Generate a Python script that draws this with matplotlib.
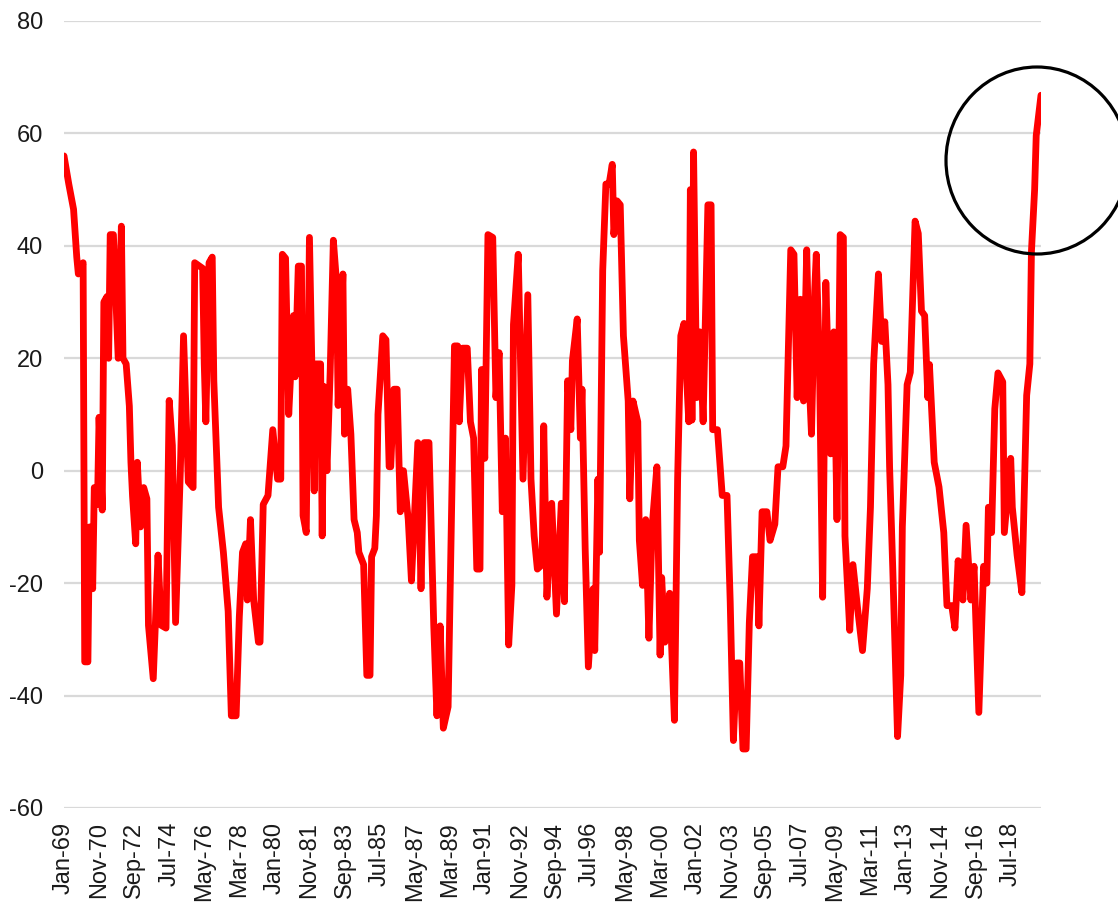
import matplotlib.pyplot as plt
from matplotlib.patches import Ellipse

# month index since Jan-69 at each turning point of the line, and its value
months = [0, 3, 6, 8, 9, 12, 13, 15, 16, 18, 19, 21, 22, 24, 25, 27, 28, 29, 31, 34,
          36, 37, 39, 41, 42, 43, 45, 46, 48, 50, 52, 53, 56, 59, 61, 64, 66, 68, 70, 73,
          75, 78, 81, 82, 87, 88, 89, 91, 93, 94, 97, 100, 103, 105, 108, 110, 112, 114, 115, 117,
          119, 122, 123, 125, 128, 131, 134, 136, 137, 139, 141, 144, 145, 147, 149, 150, 152, 154, 157, 158,
          161, 162, 163, 165, 167, 169, 171, 172, 175, 176, 178, 180, 182, 184, 185, 188, 190, 192, 193, 195,
          196, 197, 200, 202, 204, 205, 207, 209, 211, 213, 216, 218, 220, 222, 224, 226, 229, 232, 234, 236,
          238, 241, 245, 247, 248, 250, 253, 255, 257, 259, 261, 262, 264, 266, 269, 271, 273, 275, 277, 279,
          281, 282, 285, 288, 291, 293, 295, 297, 300, 301, 303, 306, 309, 312, 314, 316, 318, 319, 322, 324,
          325, 327, 329, 332, 333, 335, 336, 338, 340, 342, 344, 345, 347, 349, 351, 354, 355, 357, 360, 361,
          363, 365, 367, 369, 372, 374, 375, 377, 380, 383, 385, 387, 389, 392, 393, 394, 395, 397, 399, 401,
          404, 406, 407, 410, 413, 416, 418, 420, 422, 424, 426, 428, 430, 432, 435, 436, 438, 441, 443, 446,
          448, 451, 453, 456, 458, 460, 462, 464, 466, 468, 469, 471, 472, 474, 476, 478, 481, 483, 485, 487,
          489, 490, 493, 495, 498, 501, 504, 506, 508, 511, 513, 515, 517, 518, 520, 523, 525, 526, 529, 531,
          534, 536, 538, 540, 542, 543, 546, 549, 552, 554, 557, 559, 561, 564, 566, 569, 571, 574, 577, 579,
          580, 582, 584, 586, 589, 590, 594, 595, 598, 601, 603, 604, 606, 607, 609, 610, 613]
values = [56, 51, 46.5, 38, 35, 37, -34, -34, -10, -21, -3, -6, 9.5, -7, 30, 31, 20, 42, 42, 20,
          43.5, 20, 19, 11.5, 1.5, -4.5, -13, 1.5, -10, -3, -5, -27.5, -37, -15, -27.5, -28, 12.5, 4.5, -27, 0,
          24, -2, -3, 37, 36, 19, 8.7, 37, 38, 16, -6.5, -14.5, -25, -43.6, -43.6, -26, -14.5, -13, -23, -8.7,
          -23, -30.5, -30.5, -6, -4.4, 7.3, -1.5, -1.5, 38.5, 37.8, 10, 27.6, 16.7, 36.4, 36.4, -8, -11, 41.5, -3.6, 19,
          19, -11.6, 15, 0, 17.5, 41, 33.5, 11.6, 35, 6.5, 14.5, 6.5, -8.7, -11, -14.5, -16.7, -36.4, -36.4, -15.3, -13.8,
          -8, 10, 24, 23.3, 0.7, 0.7, 14.5, 14.5, -7.3, 0, -8.7, -19.6, -7.3, 5, -21, 5, 5, -27.6, -43.6, -27.6,
          -45.8, -42, 22.2, 22.2, 8.7, 21.8, 21.8, 8.7, 5.8, -17.5, -17.5, 18, 2.2, 42, 41.5, 13, 21, -7.3, 5.8, -31,
          -20.4, 26, 38.5, -1.5, 31.3, -1.5, -11.6, -17.5, -16.7, 8, -22.5, -5.8, -25.5, -5.8, -23.3, 16, 7.3, 19.6, 27, 5.8,
          14.5, -13.8, -34.9, -21, -32, -1.5, -14.5, 35.6, 51, 51, 54.5, 42, 48, 47.3, 24, 12.4, -5, 12.4, 8.7, -12.4,
          -20.4, -8.7, -29.8, -10, 0.7, -32.8, -19, -30.5, -21.8, -44.4, -1.5, 24, 26.2, 8.7, 50, 9, 56.7, 13, 24.7, 8.7,
          47.3, 47.3, 7.3, 7.3, -4.4, -4.4, -23.3, -48, -34.2, -34.2, -49.5, -49.5, -27, -15.3, -15.3, -27.6, -7.3, -7.3, -12.4, -9.5,
          0.7, 0.7, 4.4, 39.3, 38.5, 13, 30.5, 12.4, 39.3, 13, 6.5, 32, 38.5, 19, -22.5, 33.5, 3, 24.7, -8.7, 42,
          41.5, -11.6, -28.4, -16.7, -24.7, -32, -21, -6.5, 19, 35, 23, 26.5, 15.3, 0.7, -17.5, -47.3, -36.4, -10, 15.3, 17.5,
          44.4, 42.2, 28.4, 27.6, 13, 18.9, 1.5, -2.9, -11, -24, -24, -28, -16, -23, -9.7, -23, -17, -43, -17, -20,
          -6.5, -11, 11, 17.4, 15.8, -11, 2.2, -6.5, -15, -21.7, 1.4, 13.4, 19, 39, 50, 59.6, 66.8]

tick_months = list(range(0, 595, 22))
tick_labels = ['Jan-69', 'Nov-70', 'Sep-72', 'Jul-74', 'May-76', 'Mar-78', 'Jan-80',
               'Nov-81', 'Sep-83', 'Jul-85', 'May-87', 'Mar-89', 'Jan-91', 'Nov-92',
               'Sep-94', 'Jul-96', 'May-98', 'Mar-00', 'Jan-02', 'Nov-03', 'Sep-05',
               'Jul-07', 'May-09', 'Mar-11', 'Jan-13', 'Nov-14', 'Sep-16', 'Jul-18']

plt.rcParams['font.family'] = ['Liberation Sans', 'DejaVu Sans']
plt.rcParams['axes.unicode_minus'] = False

fig = plt.figure(figsize=(11.18, 9.02), dpi=100)
ax = fig.add_axes([64/1118, 1 - 808/902, (1041 - 64)/1118, (808 - 21)/902])

ax.plot(months, values, color='#ff0000', linewidth=4.9,
        solid_joinstyle='round', solid_capstyle='round', zorder=3)

ax.set_xlim(0, 613)
ax.set_ylim(-60, 80)
ax.set_yticks(range(-60, 81, 20))
ax.set_xticks(tick_months)
ax.set_xticklabels(tick_labels, rotation=90, va='top', ha='center')
ax.grid(axis='y', color='#d9d9d9', linewidth=1.6)
ax.set_axisbelow(True)
for s in ax.spines.values():
    s.set_visible(False)
ax.tick_params(axis='both', length=0, labelsize=17, colors='#1a1a1a')
ax.tick_params(axis='y', pad=15)
ax.tick_params(axis='x', pad=10)

# the hand-drawn circle around the latest reading
fig.patches.append(Ellipse((1037/1118, 1 - 160.5/902), 182/1118, 187/902,
                           transform=fig.transFigure, fill=False,
                           edgecolor='black', linewidth=2.3))

fig.savefig('out.png', dpi=100)
